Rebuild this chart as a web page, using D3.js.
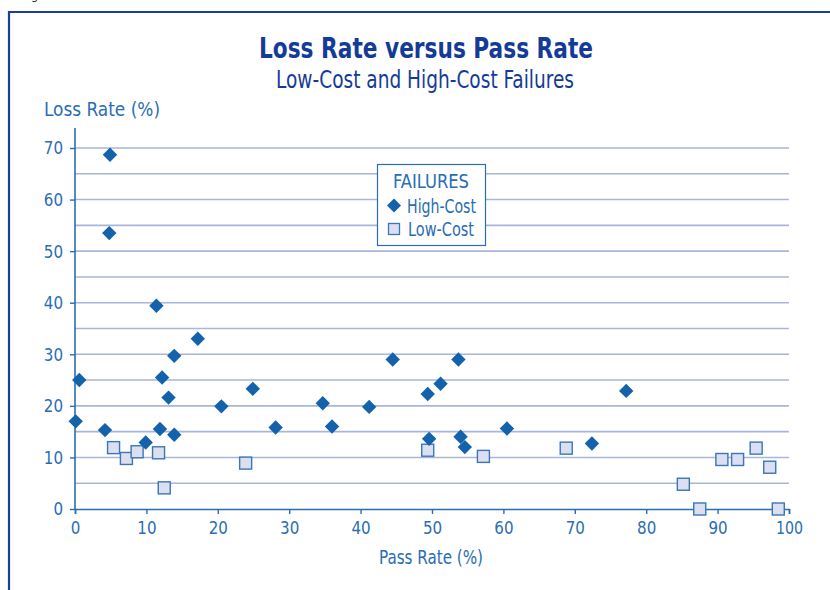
<!DOCTYPE html>
<html>
<head>
<meta charset="utf-8">
<script src="https://cdn.jsdelivr.net/npm/d3@7"></script>
<style>
  html, body { margin: 0; padding: 0; background: #fff; }
  svg { display: block; }
  text { font-family: "DejaVu Sans Condensed", "Liberation Sans Narrow", sans-serif; }
</style>
</head>
<body>
<svg id="chart" width="830" height="590"></svg>
<script>
// ---- Data ----
const highCostX = [4.9, 4.8, 11.4, 0.6, 0.1, 4.2, 9.9, 11.9, 12.2, 13.1, 13.9, 13.9, 17.2, 20.5, 24.9, 28.1, 34.7, 36.0, 41.2, 44.5, 49.4, 51.2, 53.7, 49.6, 54.0, 54.6, 60.5, 72.4, 77.2];
const highCostY = [68.7, 53.5, 39.4, 25.0, 17.0, 15.3, 12.9, 15.5, 25.5, 21.6, 29.7, 14.4, 33.0, 19.9, 23.3, 15.8, 20.5, 16.0, 19.8, 29.0, 22.3, 24.3, 29.0, 13.6, 14.0, 12.0, 15.6, 12.7, 22.9];
const lowCostX = [5.4, 7.2, 8.7, 11.7, 12.5, 23.9, 49.4, 57.2, 68.8, 85.2, 87.5, 90.6, 92.8, 95.4, 97.3, 98.5];
const lowCostY = [11.9, 9.8, 11.1, 10.9, 4.1, 8.9, 11.4, 10.2, 11.8, 4.8, 0.0, 9.6, 9.6, 11.8, 8.1, 0.0];
const xTicks = [0, 10, 20, 30, 40, 50, 60, 70, 80, 90, 100];
const yTicks = [0, 10, 20, 30, 40, 50, 60, 70];
const yGrid = [5, 10, 15, 20, 25, 30, 35, 40, 45, 50, 55, 60, 65, 70];
const titleText = "Loss Rate versus Pass Rate";
const subtitleText = "Low-Cost and High-Cost Failures";
const xTitle = "Pass Rate (%)";
const yTitle = "Loss Rate (%)";
const legendTitle = "FAILURES";
const seriesNames = ["High-Cost", "Low-Cost"];

// ---- Styles ----
const C = {
  frame: "#1b3f9c",
  title: "#153b98",
  axis: "#2a6db4",
  grid: "#aab5da",
  diamond: "#1462ab",
  squareFill: "#dcdff0",
  squareStroke: "#3a76b8"
};

const svg = d3.select("#chart");
function fit(sel, w) {
  sel.attr("textLength", w).attr("lengthAdjust", "spacingAndGlyphs");
  return sel;
}

// frame
svg.append("path")
  .attr("d", "M9,600 L9,12 L840,12")
  .attr("fill", "none").attr("stroke", C.frame).attr("stroke-width", 2.2);
svg.append("text").attr("x", 22).attr("y", -1).attr("font-size", 13).attr("fill", "#333")
  .text("Figure");

// scales
const x = d3.scaleLinear().domain([0, 100]).range([75, 789]);
const y = d3.scaleLinear().domain([0, 70]).range([509, 148]);

// title
fit(svg.append("text").attr("x", 259).attr("y", 58.3)
  .attr("font-size", 28).attr("font-weight", "bold").attr("fill", C.title).text(titleText), 334);
fit(svg.append("text").attr("x", 276).attr("y", 88.3)
  .attr("font-size", 25).attr("fill", C.title).text(subtitleText), 298);

// grid
svg.append("g").selectAll("line").data(yGrid).join("line")
  .attr("x1", x(0)).attr("x2", x(100))
  .attr("y1", d => y(d)).attr("y2", d => y(d))
  .attr("stroke", C.grid).attr("stroke-width", 1.6);

// y axis
const yAxis = svg.append("g").attr("transform", `translate(${x(0)},0)`)
  .call(d3.axisLeft(y).tickValues(yTicks).tickSize(5).tickPadding(7).tickFormat(d3.format("d")));
yAxis.select(".domain").attr("d", `M0,${y(73.9)}V${y(0)}`);
// x axis
const xAxis = svg.append("g").attr("transform", `translate(0,${y(0)})`)
  .call(d3.axisBottom(x).tickValues(xTicks).tickSize(5).tickPadding(7).tickFormat(d3.format("d")));
[yAxis, xAxis].forEach(a => {
  a.select(".domain").attr("stroke", C.axis).attr("stroke-width", 1.6);
  a.selectAll(".tick line").attr("stroke", C.axis).attr("stroke-width", 1.4);
  a.selectAll(".tick text").attr("fill", C.axis).attr("font-size", 18.5)
    .style("font-family", "'DejaVu Sans Condensed', sans-serif")
    .each(function(d) {
      const s = String(d);
      d3.select(this).attr("textLength", s.length === 3 ? 27 : s.length * 9.6)
        .attr("lengthAdjust", "spacingAndGlyphs");
    });
});

// axis titles
fit(svg.append("text").attr("x", 44).attr("y", 116).attr("font-size", 20).attr("fill", C.axis).text(yTitle), 116);
fit(svg.append("text").attr("x", 379).attr("y", 564)
  .attr("font-size", 19).attr("fill", C.axis).text(xTitle), 104);

// points
const high = highCostX.map((d, i) => ({ x: d, y: highCostY[i] }));
const low = lowCostX.map((d, i) => ({ x: d, y: lowCostY[i] }));
const dsz = 7.2;
svg.append("g").selectAll("rect").data(low).join("rect")
  .attr("x", d => x(d.x) - 6).attr("y", d => y(d.y) - 6)
  .attr("width", 12).attr("height", 12)
  .attr("fill", C.squareFill).attr("stroke", C.squareStroke).attr("stroke-width", 1.4);
svg.append("g").selectAll("path").data(high).join("path")
  .attr("d", d => `M${x(d.x)},${y(d.y) - dsz}L${x(d.x) + dsz},${y(d.y)}L${x(d.x)},${y(d.y) + dsz}L${x(d.x) - dsz},${y(d.y)}Z`)
  .attr("fill", C.diamond);

// legend
const lg = svg.append("g");
lg.append("rect").attr("x", 377.5).attr("y", 164.5).attr("width", 108).attr("height", 81)
  .attr("fill", "#fff").attr("stroke", C.axis).attr("stroke-width", 1.2);
fit(lg.append("text").attr("x", 393).attr("y", 188)
  .attr("font-size", 19).attr("fill", C.axis).text(legendTitle), 76);
lg.append("path").attr("d", "M394,198.5L401,205.5L394,212.5L387,205.5Z").attr("fill", C.diamond);
lg.append("rect").attr("x", 388.5).attr("y", 223.5).attr("width", 11).attr("height", 11)
  .attr("fill", C.squareFill).attr("stroke", C.squareStroke).attr("stroke-width", 1.3);
fit(lg.append("text").attr("x", 407).attr("y", 213).attr("font-size", 19).attr("fill", C.axis).text(seriesNames[0]), 69);
fit(lg.append("text").attr("x", 408).attr("y", 236).attr("font-size", 19).attr("fill", C.axis).text(seriesNames[1]), 66);
</script>
</body>
</html>
